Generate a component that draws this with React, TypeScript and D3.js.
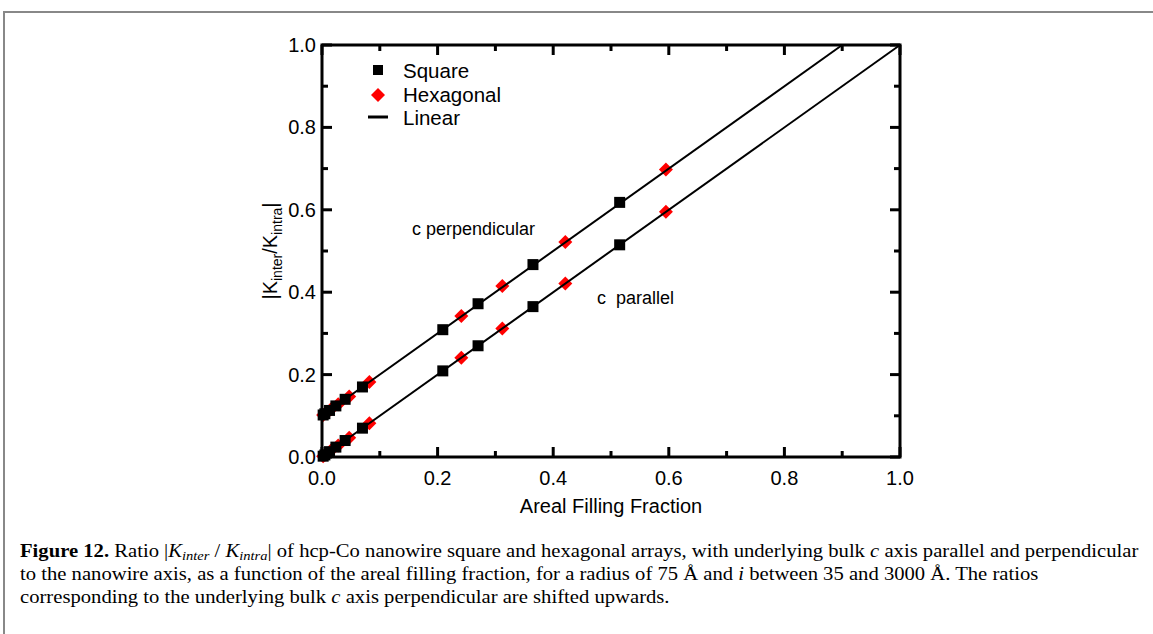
import React, { useLayoutEffect, useRef, useState } from "react";
import * as d3 from "d3";

const squareX = [0.002, 0.005, 0.013, 0.024, 0.04, 0.07, 0.209, 0.27, 0.365, 0.515];
const squareParY = [0.002, 0.005, 0.013, 0.024, 0.04, 0.07, 0.209, 0.27, 0.365, 0.515];
const squarePerpY = [0.102, 0.105, 0.113, 0.124, 0.14, 0.17, 0.309, 0.372, 0.467, 0.618];
const hexX = [0.002, 0.006, 0.015, 0.028, 0.047, 0.082, 0.241, 0.312, 0.421, 0.595];
const hexParY = [0.002, 0.006, 0.015, 0.028, 0.047, 0.082, 0.241, 0.312, 0.421, 0.595];
const hexPerpY = [0.102, 0.106, 0.115, 0.128, 0.147, 0.182, 0.342, 0.415, 0.522, 0.698];
const linePar = [[0, 0], [1, 1]];
const linePerp = [[0, 0.1], [0.9, 1.0]];
const majorTicks = [0, 0.2, 0.4, 0.6, 0.8, 1.0];
const minorTicks = [0.1, 0.3, 0.5, 0.7, 0.9];

const W = 1153, H = 634;
const M = { left: 322, right: 900, top: 45, bottom: 457 };

export default function App() {
  const x = d3.scaleLinear().domain([0, 1]).range([M.left, M.right]);
  const y = d3.scaleLinear().domain([0, 1]).range([M.bottom, M.top]);
  const line = d3.line<number[]>().x(d => x(d[0])).y(d => y(d[1]));
  const fmt = d3.format(".1f");
  const font = "'Liberation Sans', Arial, sans-serif";
  const sq = 11;
  const dm = 7;
  const cap1 = useRef<SVGTextElement>(null);
  const [sx, setSx] = useState(0.9);
  useLayoutEffect(() => {
    if (cap1.current) {
      const w = cap1.current.getComputedTextLength();
      if (w > 0) setSx(1118 / w);
    }
  }, []);
  const diamond = (cx: number, cy: number, k: string) => (
    <path key={k} d={`M${cx},${cy - dm}L${cx + dm},${cy}L${cx},${cy + dm}L${cx - dm},${cy}Z`} fill="#f00" />
  );
  const square = (cx: number, cy: number, k: string) => (
    <rect key={k} x={cx - sq / 2} y={cy - sq / 2} width={sq} height={sq} fill="#000" />
  );
  const serif = "'Liberation Serif', 'Times New Roman', serif";
  const cfs = 18.5;
  return (
    <svg width={W} height={H} style={{ position: "absolute", left: 0, top: 0, background: "#fff" }}>
      <rect x={4} y={12} width={1170} height={640} fill="none" stroke="#888" strokeWidth={2} />
      {hexX.map((v, i) => diamond(x(v), y(hexParY[i]), "hp" + i))}
      {hexX.map((v, i) => diamond(x(v), y(hexPerpY[i]), "hq" + i))}
      <path d={line(linePar) || ""} stroke="#000" strokeWidth={2} fill="none" />
      <path d={line(linePerp) || ""} stroke="#000" strokeWidth={2} fill="none" />
      {squareX.map((v, i) => square(x(v), y(squareParY[i]), "sp" + i))}
      {squareX.map((v, i) => square(x(v), y(squarePerpY[i]), "sq" + i))}
      <rect x={M.left} y={M.top} width={M.right - M.left} height={M.bottom - M.top} fill="none" stroke="#000" strokeWidth={3} />
      {majorTicks.map(t => (
        <g key={"mt" + t}>
          <line x1={x(t)} x2={x(t)} y1={M.bottom} y2={M.bottom - 10} stroke="#000" strokeWidth={3} />
          <line x1={x(t)} x2={x(t)} y1={M.top} y2={M.top + 10} stroke="#000" strokeWidth={3} />
          <line y1={y(t)} y2={y(t)} x1={M.left} x2={M.left + 10} stroke="#000" strokeWidth={3} />
          <line y1={y(t)} y2={y(t)} x1={M.right} x2={M.right - 10} stroke="#000" strokeWidth={3} />
          <text x={x(t)} y={M.bottom + 28} textAnchor="middle" fontFamily={font} fontSize={20}>{fmt(t)}</text>
          <text x={M.left - 6} y={y(t) + 7} textAnchor="end" fontFamily={font} fontSize={20}>{fmt(t)}</text>
        </g>
      ))}
      {minorTicks.map(t => (
        <g key={"nt" + t}>
          <line x1={x(t)} x2={x(t)} y1={M.bottom} y2={M.bottom - 6} stroke="#000" strokeWidth={3} />
          <line x1={x(t)} x2={x(t)} y1={M.top} y2={M.top + 6} stroke="#000" strokeWidth={3} />
          <line y1={y(t)} y2={y(t)} x1={M.left} x2={M.left + 6} stroke="#000" strokeWidth={3} />
          <line y1={y(t)} y2={y(t)} x1={M.right} x2={M.right - 6} stroke="#000" strokeWidth={3} />
        </g>
      ))}
      <text x={(M.left + M.right) / 2} y={513} textAnchor="middle" fontFamily={font} fontSize={20}>Areal Filling Fraction</text>
      <text transform={`translate(277,${(M.top + M.bottom) / 2}) rotate(-90)`} textAnchor="middle" fontFamily={font} fontSize={20}>
        |K<tspan fontSize={14} dy={5}>inter</tspan><tspan dy={-5}>/K</tspan><tspan fontSize={14} dy={5}>intra</tspan><tspan dy={-5}>|</tspan>
      </text>
      <rect x={373} y={65} width={10} height={10} fill="#000" />
      <text x={403} y={78} fontFamily={font} fontSize={20.5}>Square</text>
      <path d="M378,88L385,95L378,102L371,95Z" fill="#f00" />
      <text x={403} y={102} fontFamily={font} fontSize={20.5}>Hexagonal</text>
      <line x1={368} x2={388} y1={117} y2={117} stroke="#000" strokeWidth={3} />
      <text x={403} y={125} fontFamily={font} fontSize={20.5}>Linear</text>
      <text x={412} y={235} fontFamily={font} fontSize={18}>c perpendicular</text>
      <text x={597} y={304} fontFamily={font} fontSize={18} style={{ whiteSpace: "pre" }}>c  parallel</text>
      <g transform={`translate(20,0) scale(${sx},1)`}>
        <text ref={cap1} x={0} y={557} fontFamily={serif} fontSize={cfs}>
          <tspan fontWeight="bold">Figure 12.</tspan> Ratio |<tspan fontStyle="italic">K</tspan><tspan fontStyle="italic" fontSize={13} dy={3}>inter</tspan><tspan dy={-3}> / </tspan><tspan fontStyle="italic">K</tspan><tspan fontStyle="italic" fontSize={13} dy={3}>intra</tspan><tspan dy={-3}>| of hcp-Co nanowire square and hexagonal arrays, with underlying bulk </tspan><tspan fontStyle="italic">c</tspan> axis parallel and perpendicular
        </text>
        <text x={0} y={580} fontFamily={serif} fontSize={cfs}>
          to the nanowire axis, as a function of the areal filling fraction, for a radius of 75 Å and <tspan fontStyle="italic">i</tspan> between 35 and 3000 Å. The ratios
        </text>
        <text x={0} y={603} fontFamily={serif} fontSize={cfs}>
          corresponding to the underlying bulk <tspan fontStyle="italic">c</tspan> axis perpendicular are shifted upwards.
        </text>
      </g>
    </svg>
  );
}
